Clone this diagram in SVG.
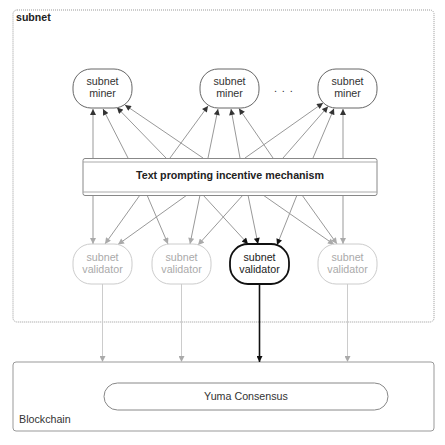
<svg xmlns="http://www.w3.org/2000/svg" width="445" height="445" viewBox="0 0 445 445">
<style>
  text { font-family: "Liberation Sans", Arial, sans-serif; font-size: 10.7px; text-anchor: middle; }
  .node { fill: #fff; stroke: #666; stroke-width: 1; }
  .ghost { fill: #fff; stroke: #ccc; stroke-width: 1; }
  .active { fill: #fff; stroke: #111; stroke-width: 1.8; }
  .t-dark { fill: #333; }
  .t-ghost { fill: #aaa; }
  .up { stroke: #999; stroke-width: 1; fill: none; marker-end: url(#ah-dark); }
  .down { stroke: #999; stroke-width: 1; fill: none; marker-end: url(#ah-light); }
  .down-a { stroke: #999; stroke-width: 1; fill: none; marker-end: url(#ah-black); }
  .chain { stroke: #ccc; stroke-width: 1; fill: none; marker-end: url(#ah-light); }
  .chain-a { stroke: #111; stroke-width: 1.6; fill: none; marker-end: url(#ah-black); }
</style>
<defs>
  <marker id="ah-dark" viewBox="0 0 10 10" refX="10" refY="5" markerWidth="7" markerHeight="6" markerUnits="userSpaceOnUse" orient="auto">
    <path d="M0,0 L10,5 L0,10 z" fill="#333"/>
  </marker>
  <marker id="ah-light" viewBox="0 0 10 10" refX="10" refY="5" markerWidth="7" markerHeight="6" markerUnits="userSpaceOnUse" orient="auto">
    <path d="M0,0 L10,5 L0,10 z" fill="#aaa"/>
  </marker>
  <marker id="ah-black" viewBox="0 0 10 10" refX="10" refY="5" markerWidth="7" markerHeight="6" markerUnits="userSpaceOnUse" orient="auto">
    <path d="M0,0 L10,5 L0,10 z" fill="#111"/>
  </marker>
</defs>

<g id="subnet">
  <rect x="13" y="10" width="421" height="312" rx="4" fill="none" stroke="#999" stroke-width="1" stroke-dasharray="1,1"/>
  <text x="16" y="21" style="text-anchor:start;font-weight:bold;font-size:10.6px" fill="#222">subnet</text>
</g>

<g id="blockchain">
  <rect x="13" y="362" width="421" height="69" rx="3" fill="#fff" stroke="#999" stroke-width="1"/>
  <text x="19" y="422.5" style="text-anchor:start" class="t-dark">Blockchain</text>
</g>

<g id="yuma">
  <rect x="104" y="383" width="284" height="27" rx="13.5" fill="#fff" stroke="#888" stroke-width="1"/>
  <text x="246" y="400" class="t-dark">Yuma Consensus</text>
</g>

<g id="connectors">
  <!-- mechanism to miners -->
  <line class="up" x1="93" y1="158" x2="93" y2="109"/>
  <line class="up" x1="128" y1="158" x2="103" y2="109"/>
  <line class="up" x1="166" y1="158" x2="117" y2="107.5"/>
  <line class="up" x1="203" y1="158" x2="125" y2="105"/>
  <line class="up" x1="170" y1="158" x2="208" y2="106"/>
  <line class="up" x1="208" y1="158" x2="218" y2="109"/>
  <line class="up" x1="240" y1="158" x2="231" y2="109"/>
  <line class="up" x1="273" y1="158" x2="239" y2="108.5"/>
  <line class="up" x1="245" y1="158" x2="323" y2="103"/>
  <line class="up" x1="283" y1="158" x2="328" y2="106.5"/>
  <line class="up" x1="313" y1="158" x2="334" y2="108.5"/>
  <line class="up" x1="343" y1="158" x2="343" y2="109"/>
  <!-- mechanism to validators -->
  <line class="down" x1="93" y1="195" x2="93" y2="244"/>
  <line class="down" x1="140" y1="195" x2="105" y2="244"/>
  <line class="down" x1="187" y1="195" x2="118" y2="244.5"/>
  <line class="down" x1="147" y1="195" x2="168" y2="244"/>
  <line class="down" x1="200" y1="195" x2="190" y2="244"/>
  <line class="down" x1="243" y1="195" x2="198" y2="245"/>
  <line class="down-a" x1="203" y1="195" x2="248" y2="244"/>
  <line class="down-a" x1="248" y1="195" x2="258" y2="244"/>
  <line class="down-a" x1="297" y1="195" x2="277" y2="245"/>
  <line class="down" x1="263" y1="195" x2="334" y2="244.5"/>
  <line class="down" x1="302" y1="195" x2="337" y2="244"/>
  <line class="down" x1="343" y1="195" x2="343" y2="244"/>
  <!-- validators to blockchain -->
  <line class="chain" x1="102.5" y1="284" x2="102.5" y2="362"/>
  <line class="chain" x1="181.5" y1="284" x2="181.5" y2="362"/>
  <line class="chain-a" x1="259.5" y1="285" x2="259.5" y2="362"/>
  <line class="chain" x1="347.5" y1="284" x2="347.5" y2="362"/>
</g>

<g id="miner-1">
  <rect class="node" x="73" y="69" width="59" height="39" rx="18" ry="18"/>
  <text x="102.5" y="85" class="t-dark">subnet</text>
  <text x="102.5" y="97.3" class="t-dark">miner</text>
</g>
<g id="miner-2">
  <rect class="node" x="200" y="69" width="59" height="39" rx="18" ry="18"/>
  <text x="229.5" y="85" class="t-dark">subnet</text>
  <text x="229.5" y="97.3" class="t-dark">miner</text>
</g>
<g id="ellipsis">
  <text x="274" y="92" class="t-dark" style="text-anchor:start;letter-spacing:4.8px;font-size:11px">...</text>
</g>
<g id="miner-3">
  <rect class="node" x="318" y="69" width="59" height="39" rx="18" ry="18"/>
  <text x="347.5" y="85" class="t-dark">subnet</text>
  <text x="347.5" y="97.3" class="t-dark">miner</text>
</g>

<g id="mechanism">
  <rect x="83" y="158.5" width="294" height="37" rx="2" fill="#fff" stroke="#888" stroke-width="1"/>
  <line x1="83" y1="162" x2="377" y2="162" stroke="#aaa" stroke-width="1"/>
  <line x1="83" y1="192" x2="377" y2="192" stroke="#aaa" stroke-width="1"/>
  <text x="230" y="178.7" style="font-weight:bold" fill="#222">Text prompting incentive mechanism</text>
</g>

<g id="validator-1">
  <rect class="ghost" x="73" y="244" width="59" height="40" rx="18" ry="18"/>
  <text x="102.5" y="261" class="t-ghost">subnet</text>
  <text x="102.5" y="273.3" class="t-ghost">validator</text>
</g>
<g id="validator-2">
  <rect class="ghost" x="152" y="244" width="59" height="40" rx="18" ry="18"/>
  <text x="181.5" y="261" class="t-ghost">subnet</text>
  <text x="181.5" y="273.3" class="t-ghost">validator</text>
</g>
<g id="validator-3">
  <rect class="active" x="230" y="244" width="59" height="40" rx="18" ry="18"/>
  <text x="259.5" y="261" fill="#222">subnet</text>
  <text x="259.5" y="273.3" fill="#222">validator</text>
</g>
<g id="validator-4">
  <rect class="ghost" x="318" y="244" width="59" height="40" rx="18" ry="18"/>
  <text x="347.5" y="261" class="t-ghost">subnet</text>
  <text x="347.5" y="273.3" class="t-ghost">validator</text>
</g>
</svg>
